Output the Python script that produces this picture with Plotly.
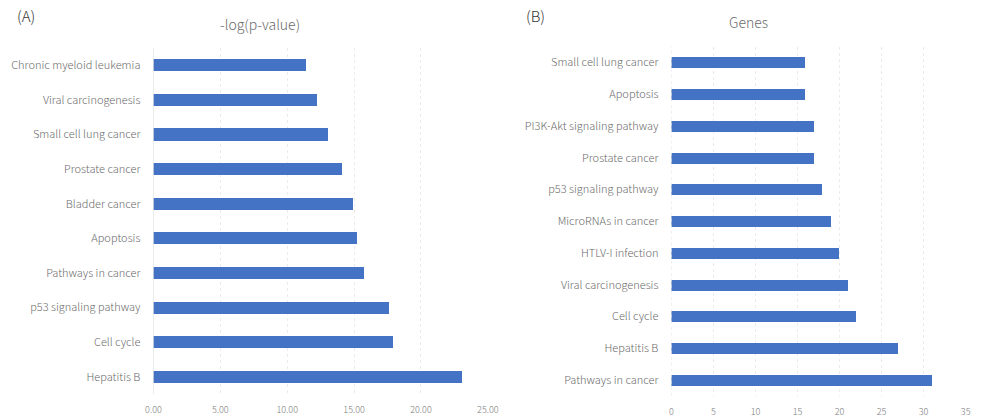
import plotly.graph_objects as go

# Panel A: enriched KEGG pathways ranked by -log(p-value), listed bottom to top
pathways_a = [
    "Hepatitis B", "Cell cycle", "p53 signaling pathway", "Pathways in cancer",
    "Apoptosis", "Bladder cancer", "Prostate cancer", "Small cell lung cancer",
    "Viral carcinogenesis", "Chronic myeloid leukemia",
]
neg_log_p = [23.07, 17.94, 17.65, 15.81, 15.25, 14.93, 14.13, 13.08, 12.24, 11.44]

# Panel B: number of genes per pathway, listed bottom to top
pathways_b = [
    "Pathways in cancer", "Hepatitis B", "Cell cycle", "Viral carcinogenesis",
    "HTLV-I infection", "MicroRNAs in cancer", "p53 signaling pathway",
    "Prostate cancer", "PI3K-Akt signaling pathway", "Apoptosis",
    "Small cell lung cancer",
]
gene_counts = [31, 27, 22, 21, 20, 19, 18, 17, 17, 16, 16]

x_ticks_a = [0, 5, 10, 15, 20, 25]
x_ticks_b = [0, 5, 10, 15, 20, 25, 30, 35]

BAR = "#4472C4"
TEXT = "#6b6b6b"
GRID = "#ebebeb"
FONT = "Noto Sans CJK KR Light, Noto Sans CJK KR, Noto Sans"
W, H = 984, 418


def f(size, color=TEXT):
    return dict(family=FONT, size=size, color=color, weight=300)


fig = go.Figure()
fig.add_trace(go.Bar(x=neg_log_p, y=pathways_a, orientation="h",
                     marker=dict(color=BAR, line=dict(width=0)),
                     width=0.35, xaxis="x", yaxis="y", hoverinfo="x+y"))
fig.add_trace(go.Bar(x=gene_counts, y=pathways_b, orientation="h",
                     marker=dict(color=BAR, line=dict(width=0)),
                     width=0.35, xaxis="x2", yaxis="y2", hoverinfo="x+y"))

common_x = dict(showgrid=True, gridcolor=GRID, griddash="dot", gridwidth=1,
                zeroline=False, showline=False, ticks="",
                ticklabelstandoff=9, fixedrange=True, tickfont=f(9, "#7a7a7a"))
common_y = dict(type="category", showgrid=False, zeroline=False,
                showline=False, ticks="", ticklabelstandoff=12,
                tickfont=f(11))

fig.update_layout(
    width=W, height=H,
    margin=dict(l=0, r=0, t=0, b=0),
    paper_bgcolor="white", plot_bgcolor="white",
    showlegend=False, bargap=0,
    font=f(11),
    xaxis=dict(domain=[148.3 / W, 489.3 / W], range=[0, 25],
               tickvals=x_ticks_a,
               ticktext=[f"{v:.2f}" for v in x_ticks_a],
               anchor="y", **common_x),
    yaxis=dict(domain=[23 / H, 370 / H], anchor="x",
               range=[-0.5, len(pathways_a) - 0.5], **common_y),
    xaxis2=dict(domain=[676.5 / W, 976.5 / W], range=[0, 35],
                tickvals=x_ticks_b, ticktext=[str(v) for v in x_ticks_b],
                anchor="y2", **common_x),
    yaxis2=dict(domain=[21.3 / H, 371.3 / H], anchor="x2",
                range=[-0.5, len(pathways_b) - 0.5], **common_y),
    shapes=[
        # baseline at x = 0 for each panel
        dict(type="line", xref="x", yref="y domain", x0=0, x1=0, y0=0, y1=1,
             line=dict(color="#d9d9d9", width=1)),
        dict(type="line", xref="x2", yref="y2 domain", x0=0, x1=0, y0=0, y1=1,
             line=dict(color="#e3e3e3", width=1, dash="dot")),
    ],
    annotations=[
        dict(text="(A)", x=7 / W, y=1 - 16 / H, xref="paper", yref="paper",
             xanchor="left", yanchor="middle", showarrow=False,
             font=f(15, "#333333")),
        dict(text="(B)", x=526 / W, y=1 - 16 / H, xref="paper", yref="paper",
             xanchor="left", yanchor="middle", showarrow=False,
             font=f(15, "#333333")),
        dict(text="-log(p-value)", x=257 / W, y=1 - 24 / H, xref="paper",
             yref="paper", xanchor="center", yanchor="middle", showarrow=False,
             font=f(14)),
        dict(text="Genes", x=755 / W, y=1 - 22 / H, xref="paper",
             yref="paper", xanchor="center", yanchor="middle", showarrow=False,
             font=f(14)),
    ],
)

fig.write_html("out.html")
